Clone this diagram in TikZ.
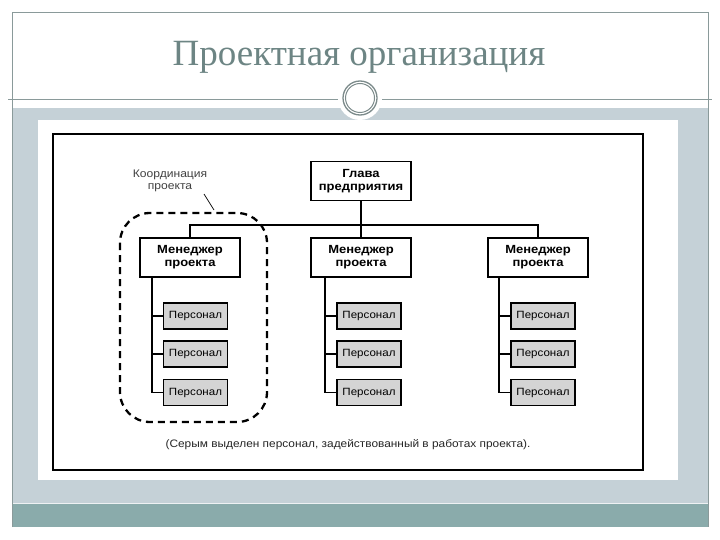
\documentclass[tikz,border=0pt]{standalone}
\usepackage{fontspec}
\setmainfont{Liberation Sans}
\newfontfamily\widesans[FakeStretch=1.1]{Liberation Sans}
\newfontfamily\titlefont{Liberation Serif}
\usetikzlibrary{calc}
\definecolor{slidegray}{HTML}{C5D1D7}
\definecolor{slideteal}{HTML}{8AABAB}
\definecolor{titlecol}{HTML}{6D8584}
\definecolor{rulecol}{HTML}{8A9A9A}
\definecolor{persfill}{HTML}{D4D4D4}
\tikzset{
  mgrbox/.style={draw=black, line width=1.5pt, fill=white, minimum width=100pt, minimum height=39pt, align=center, font=\widesans\fontsize{11.8}{13}\selectfont\bfseries, inner sep=1pt},
  persbox/.style={draw=black, line width=1.5pt, fill=persfill, minimum width=64pt, minimum height=26pt, font=\widesans\fontsize{10.5}{12}\selectfont, inner sep=1pt},
  conn/.style={draw=black, line width=1.5pt},
}
\begin{document}
\begin{tikzpicture}[x=1pt,y=-1pt]
\useasboundingbox (0,0) rectangle (720,540);
\fill[white] (0,0) rectangle (720,540);
% slide background bands
\fill[slidegray] (12,108) rectangle (708,503);
\fill[slideteal] (12,503) rectangle (708,527);
\draw[white!70!slidegray, line width=1pt] (12,503.5) -- (708,503.5);
% slide frame
\draw[rulecol, line width=0.8pt] (12,527) -- (12,12) -- (708,12) -- (708,527);
\draw[rulecol, line width=1pt] (8,100) -- (712,100);
% ornament
\fill[white] (360,98) circle (22);
\draw[rulecol!90!black, line width=1.3pt] (360,98) circle (17);
\draw[rulecol!90!black, line width=1pt] (360,98) circle (14.5);
% title
\node[font=\titlefont\fontsize{37}{39}\selectfont, text=titlecol] (title) at (359,57) {Проектная организация};
% white picture area
\fill[white] (38,120) rectangle (678,480);
\draw[black, line width=1.5pt] (53,134) rectangle (643,470);
% nodes
\node[mgrbox] (head) at (361,181) {Глава\\предприятия};
\node[mgrbox] (m1) at (190,257.5) {Менеджер\\проекта};
\node[mgrbox] (m2) at (361,257.5) {Менеджер\\проекта};
\node[mgrbox] (m3) at (538,257.5) {Менеджер\\проекта};
\coordinate (hline) at (0,225);
\draw[conn] (head.south) -- (head.south |- hline);
\draw[conn] (m1.north) |- (m3.north |- hline) -- (m3.north);
\draw[conn] (m2.north |- hline) -- (m2.north);
% personnel
\foreach \c/\x/\v in {1/195.5/152, 2/369/325, 3/543/499}{
  \node[persbox] (p\c1) at (\x,316) {Персонал};
  \node[persbox] (p\c2) at (\x,354) {Персонал};
  \node[persbox] (p\c3) at (\x,392.5) {Персонал};
  \coordinate (v\c) at (\v,0);
  \draw[conn] (v\c |- m\c.south) |- (p\c3.west);
  \draw[conn] (v\c |- p\c1.west) -- (p\c1.west);
  \draw[conn] (v\c |- p\c2.west) -- (p\c2.west);
}
% coordination
\draw[black, line width=2.3pt, dash pattern=on 7pt off 5pt, rounded corners=30pt] (120,213) rectangle (267,422);
\node[font=\widesans\fontsize{11}{12.5}\selectfont, text=black!75, align=center] (coord) at (170,181) {Координация\\проекта};
\coordinate (coordtip) at (214,210);
\draw[black, line width=0.7pt] (204,194) -- (coordtip);
% caption
\node[font=\widesans\fontsize{10.8}{12}\selectfont, text=black!85] (caption) at (348,445) {(Серым выделен персонал, задействованный в работах проекта).};
\end{tikzpicture}
\end{document}
